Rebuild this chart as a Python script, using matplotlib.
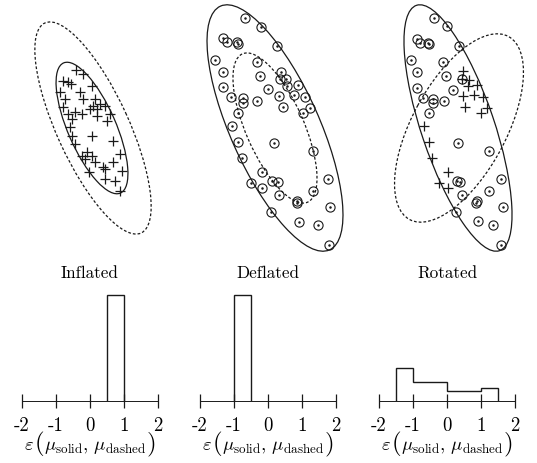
import numpy as np
import matplotlib
matplotlib.use("Agg")
import matplotlib.pyplot as plt
from matplotlib.patches import Ellipse
from matplotlib.offsetbox import TextArea, HPacker, AnnotationBbox

plt.rcParams['font.family'] = 'cmr10'
plt.rcParams['mathtext.fontset'] = 'cm'
plt.rcParams['axes.unicode_minus'] = False

INK = '#1a1a1a'

# points, in panel pixel units (x right, y down)
inflated_plus = [(76, 71), (83, 75), (63, 82), (68, 83), (71, 85), (92, 87), (60, 93), (80, 93),
                 (65, 100), (83, 100), (95, 100), (100, 105), (93, 107), (90, 110), (105, 107),
                 (63, 108), (97, 110), (75, 113), (82, 115), (68, 115), (110, 115), (97, 117),
                 (107, 122), (72, 120), (70, 128), (72, 137), (92, 137), (113, 142), (75, 145),
                 (87, 153), (82, 157), (92, 157), (120, 155), (85, 160), (95, 163), (113, 163),
                 (103, 168), (105, 170), (122, 172), (89, 173), (105, 180), (115, 182), (120, 192)]

deflated_circ = [(65, 19), (81, 28), (43, 39), (47, 43), (57, 43), (58, 45), (97, 47), (35, 61),
                 (77, 63), (43, 73), (101, 73), (80, 77), (100, 80), (106, 80), (107, 87), (118, 86),
                 (43, 88), (88, 90), (99, 97), (114, 96), (125, 98), (51, 98), (63, 99), (63, 104),
                 (77, 102), (103, 108), (130, 109), (123, 114), (58, 114), (52, 127), (58, 143),
                 (94, 144), (133, 152), (62, 159), (82, 173), (92, 182), (98, 183), (71, 184),
                 (82, 189), (148, 180), (99, 196), (133, 192), (117, 202), (117, 204), (91, 213),
                 (150, 208), (119, 223), (138, 226), (149, 246)]

rotated_circ = [(77, 19), (90, 27), (60, 40), (63, 44), (71, 44), (72, 45), (102, 47), (54, 61),
                (86, 63), (60, 73), (89, 77), (105, 80), (60, 89), (96, 91), (66, 99), (76, 100),
                (76, 104), (87, 102), (72, 114), (101, 144), (132, 152), (100, 182), (103, 183),
                (105, 196), (120, 202), (119, 204), (144, 180), (132, 192), (146, 208), (99, 213),
                (121, 222), (136, 226), (144, 246)]

rotated_plus = [(106, 72), (105, 80), (112, 81), (120, 86), (111, 87), (106, 97), (117, 96),
                (126, 98), (108, 108), (130, 109), (124, 114), (67, 127), (72, 143), (75, 159),
                (91, 173), (82, 184), (91, 189)]

# ellipses: centre x, centre y, major, minor, angle
inflated_solid = (92, 129, 142, 48, 66.4)
inflated_dash = (93, 129, 231, 72, 65.4)
deflated_solid = (95, 129, 267, 89, 65.9)
deflated_dash = (95, 129, 162, 58, 66.3)
rotated_solid = (101, 129, 259, 73, 71.3)
rotated_dash = (102, 129, 208, 94, -61.6)

titles = ['Inflated', 'Deflated', 'Rotated']

# histograms of epsilon
hist_edges = [[0.5, 1.0], [-1.0, -0.5], [-1.5, -1.0, 0.0, 1.0, 1.5]]
hist_vals = [[2.0], [2.0], [0.62, 0.36, 0.19, 0.25]]
xtick_vals = [-2, -1, 0, 1, 2]
xtick_labels = ['-2', '-1', '0', '1', '2']

W, H = 537, 464
fig = plt.figure(figsize=(W / 100, H / 100), dpi=100)


def add_ellipse(ax, e, dashed):
    cx, cy, w, h, ang = e
    ls = (0, (2.2, 1.6)) if dashed else '-'
    ax.add_patch(Ellipse((cx, cy), w, h, angle=ang, fill=False, ec=INK,
                         lw=0.9, ls=ls))


def plus(ax, pts):
    x, y = zip(*pts)
    ax.plot(x, y, '+', color=INK, ms=7.5, mew=0.9, ls='none')


def circ(ax, pts):
    x, y = zip(*pts)
    ax.plot(x, y, 'o', mfc='none', mec=INK, ms=6.6, mew=0.8, ls='none')
    ax.plot(x, y, '.', color=INK, ms=1.6, ls='none')


def eps_label(ax):
    # epsilon(...) with taller brackets, like \big( in LaTeX
    small = dict(fontsize=13.5, color='black')
    big = dict(fontsize=18, color='black')
    parts = [TextArea(r'$\varepsilon$', textprops=small),
             TextArea('(', textprops=big),
             TextArea(r'$\mu_{\mathrm{solid}},\,\mu_{\mathrm{dashed}}$', textprops=small),
             TextArea(')', textprops=big)]
    box = HPacker(children=parts, align='baseline', pad=0, sep=0)
    ab = AnnotationBbox(box, (0.5, 0), xycoords='axes fraction',
                        xybox=(0, -21), boxcoords='offset points',
                        box_alignment=(0.5, 1), frameon=False, pad=0)
    ax.add_artist(ab)


panel_left = [0, 180, 357]
top_axes = []
for left in panel_left:
    ax = fig.add_axes([left / W, 1 - 260 / H, 180 / W, 260 / H])
    ax.set_xlim(0, 180)
    ax.set_ylim(260, 0)
    ax.set_axis_off()
    top_axes.append(ax)

add_ellipse(top_axes[0], inflated_dash, True)
add_ellipse(top_axes[0], inflated_solid, False)
plus(top_axes[0], inflated_plus)

add_ellipse(top_axes[1], deflated_dash, True)
add_ellipse(top_axes[1], deflated_solid, False)
circ(top_axes[1], deflated_circ)

add_ellipse(top_axes[2], rotated_dash, True)
add_ellipse(top_axes[2], rotated_solid, False)
circ(top_axes[2], rotated_circ)
plus(top_axes[2], rotated_plus)

# bottom row
hist_left = [22, 200, 379]
for i, left in enumerate(hist_left):
    ax = fig.add_axes([left / W, 62 / H, 136 / W, 111.3 / H])
    ax.stairs(hist_vals[i], hist_edges[i], color=INK, lw=1.0)
    ax.set_xlim(-2, 2)
    ax.set_ylim(0, 2.1)
    for s in ['top', 'left', 'right']:
        ax.spines[s].set_visible(False)
    ax.spines['bottom'].set_linestyle((0, (1, 1)))
    ax.spines['bottom'].set_linewidth(0.7)
    ax.spines['bottom'].set_color(INK)
    ax.set_yticks([])
    ax.set_xticks(xtick_vals)
    ax.set_xticklabels(xtick_labels, fontsize=13.5)
    ax.tick_params(axis='x', direction='inout', length=10, width=0.9, pad=6, color=INK)
    eps_label(ax)
    ax.set_title(titles[i], fontsize=12.3, pad=9)
    ax.patch.set_alpha(0)

fig.savefig('out.png', dpi=100)
